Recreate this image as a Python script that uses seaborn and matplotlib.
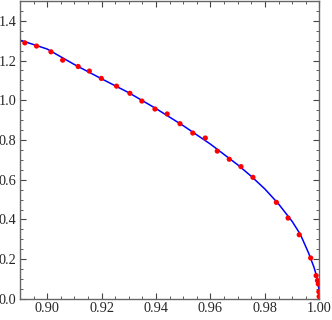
import numpy as np
import pandas as pd
import matplotlib
matplotlib.use("Agg")
import matplotlib.pyplot as plt
import seaborn as sns
from matplotlib.ticker import MultipleLocator

# curve
curve_x = [0.89, 0.90, 0.91, 0.92, 0.93, 0.94, 0.95, 0.96, 0.97, 0.975, 0.98,
           0.985, 0.99, 0.993, 0.996, 0.998, 0.999, 0.9995, 0.9998, 1.0]
curve_y = [1.303, 1.258, 1.180, 1.108, 1.038, 0.958, 0.872, 0.779, 0.675, 0.617, 0.553,
           0.478, 0.390, 0.325, 0.232, 0.160, 0.114, 0.080, 0.050, 0.0]

# measured points
pts_x = [0.8918, 0.8961, 0.9014, 0.9057, 0.9114, 0.9155, 0.9199, 0.9255, 0.9304, 0.9348,
         0.9396, 0.9441, 0.9488, 0.9535, 0.9581, 0.9625, 0.9669, 0.9712, 0.9756, 0.9842,
         0.9885, 0.9926, 0.9968, 0.9988, 0.9993, 0.9996, 0.9998, 0.9999]
pts_y = [1.289, 1.273, 1.244, 1.202, 1.170, 1.147, 1.110, 1.071, 1.035, 0.996,
         0.956, 0.931, 0.882, 0.835, 0.810, 0.744, 0.703, 0.666, 0.612, 0.486,
         0.407, 0.323, 0.206, 0.117, 0.092, 0.075, 0.036, 0.012]

curve = pd.DataFrame({"x": curve_x, "y": curve_y})
pts = pd.DataFrame({"x": pts_x, "y": pts_y})

sns.set_style("ticks")
plt.rcParams['font.family'] = ['Liberation Serif', 'DejaVu Serif']

fig = plt.figure(figsize=(3.32, 3.20), dpi=100)
ax = fig.add_axes([0.060, 0.066, 0.902, 0.931])

sns.lineplot(data=curve, x="x", y="y", ax=ax, color="#0000ff", linewidth=1.1, sort=False)
sns.scatterplot(data=pts, x="x", y="y", ax=ax, color="#ff0000", s=14, edgecolor="none", zorder=3)

ax.set_xlim(0.89, 1.0)
ax.set_ylim(0, 1.5)
ax.set_xlabel("")
ax.set_ylabel("")
ax.xaxis.set_major_locator(MultipleLocator(0.02))
ax.xaxis.set_minor_locator(MultipleLocator(0.005))
ax.yaxis.set_major_locator(MultipleLocator(0.2))
ax.yaxis.set_minor_locator(MultipleLocator(0.05))
ax.xaxis.set_major_formatter(matplotlib.ticker.FormatStrFormatter("%.2f"))
ax.yaxis.set_major_formatter(matplotlib.ticker.FormatStrFormatter("%.1f"))

for s in ax.spines.values():
    s.set_color("#666666")
    s.set_linewidth(1.0)
    s.set_visible(True)
ax.tick_params(which="both", direction="in", top=True, right=True, color="#444444",
               labelsize=10.3, pad=2.5)
ax.tick_params(which="major", length=4, width=0.8)
ax.tick_params(which="minor", length=2, width=0.6)

fig.savefig("out.png", dpi=100)
